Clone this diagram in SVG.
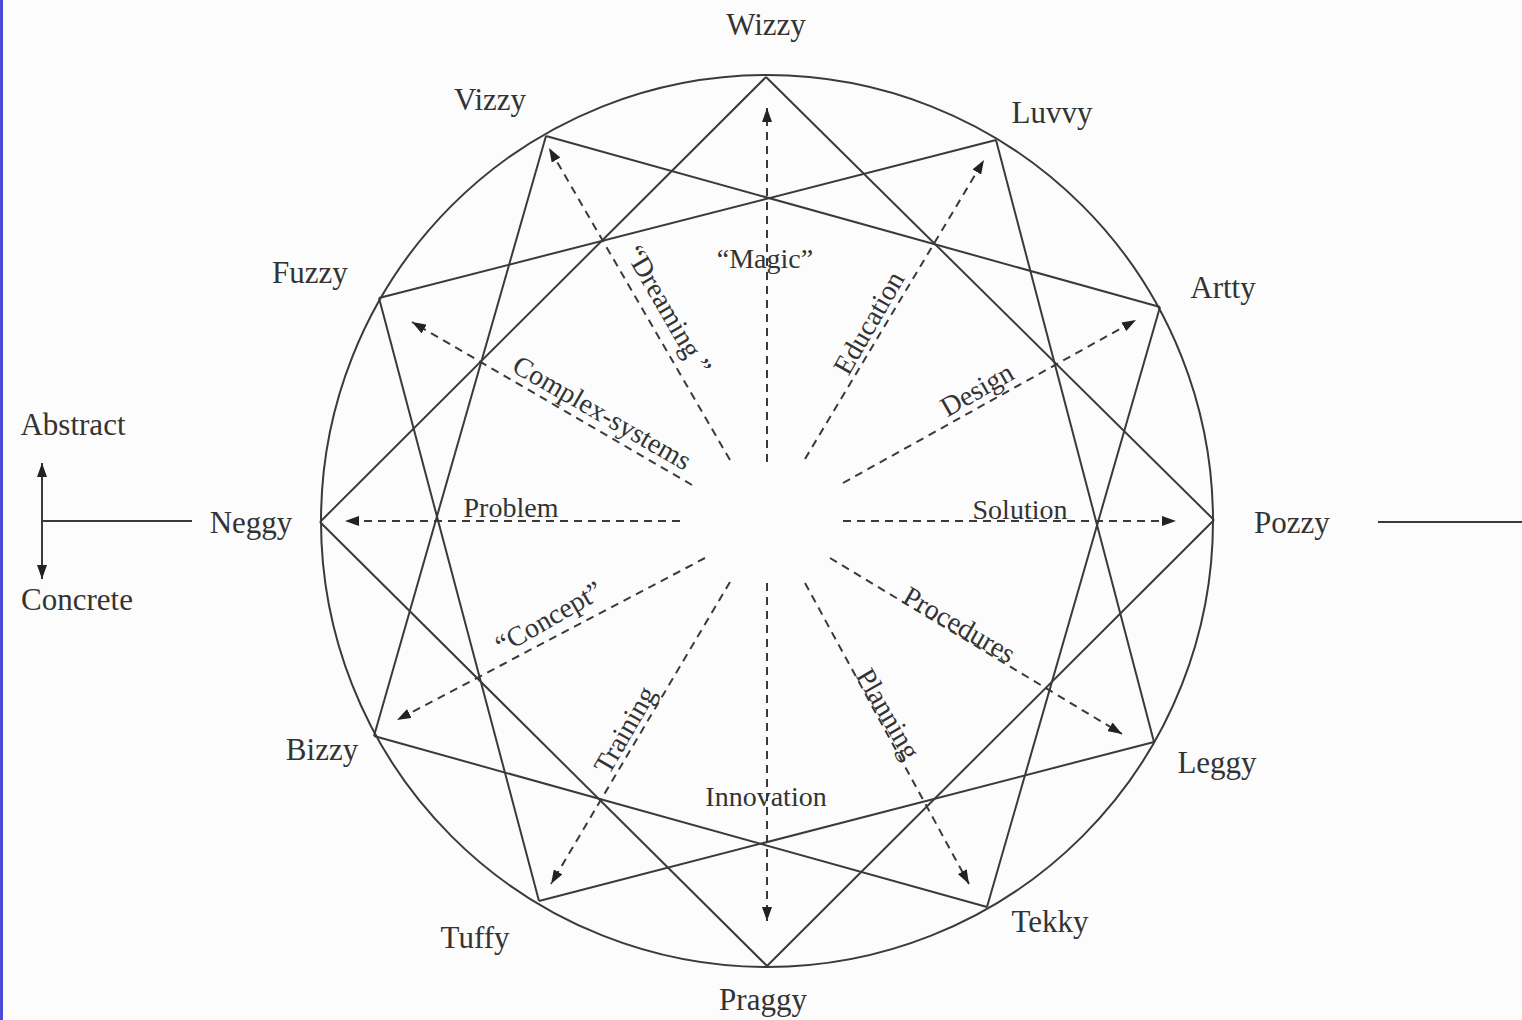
<svg xmlns="http://www.w3.org/2000/svg" width="1522" height="1020" viewBox="0 0 1522 1020">
<style>
.lbl{font-family:"Liberation Serif","Times New Roman",serif;font-size:31px;fill:#333;text-anchor:middle}
.in{font-family:"Liberation Serif","Times New Roman",serif;font-size:28px;fill:#333;text-anchor:middle}
.ln{stroke:#3a3a3a;stroke-width:2;fill:none}
.ax{stroke:#3a3a3a;stroke-width:2;fill:none;marker-end:url(#ah)}
.da{stroke:#3a3a3a;stroke-width:2;fill:none;stroke-dasharray:8 6;marker-end:url(#ah)}
</style>
<defs>
<marker id="ah" viewBox="0 0 14 10" refX="14" refY="5" markerWidth="14" markerHeight="10" markerUnits="userSpaceOnUse" orient="auto">
<path d="M0,0 L14,5 L0,10 z" fill="#222"/>
</marker>
</defs>
<rect x="0" y="0" width="1522" height="1020" fill="#fcfcfc"/>
<rect x="0" y="0" width="3" height="1020" fill="#4a4ad6"/>
<circle cx="767" cy="521" r="446" class="ln"/>
<g id="connectors">
<g id="star">
<line class="ln" x1="766" y1="77" x2="1214" y2="520"/>
<line class="ln" x1="996" y1="140" x2="1154" y2="742"/>
<line class="ln" x1="1160" y1="307" x2="987" y2="907"/>
<line class="ln" x1="1214" y1="520" x2="767" y2="966"/>
<line class="ln" x1="1154" y1="742" x2="539" y2="901"/>
<line class="ln" x1="987" y1="907" x2="374" y2="736"/>
<line class="ln" x1="767" y1="966" x2="320" y2="522"/>
<line class="ln" x1="539" y1="901" x2="379" y2="298"/>
<line class="ln" x1="374" y1="736" x2="546" y2="136"/>
<line class="ln" x1="320" y1="522" x2="766" y2="77"/>
<line class="ln" x1="379" y1="298" x2="996" y2="140"/>
<line class="ln" x1="546" y1="136" x2="1160" y2="307"/>
</g>
<g id="arrows">
<line class="da" x1="767" y1="462" x2="767" y2="108"/>
<line class="da" x1="767" y1="583" x2="767" y2="921"/>
<line class="da" x1="680" y1="521" x2="345" y2="521"/>
<line class="da" x1="843" y1="521" x2="1176" y2="521"/>
<line class="da" x1="730" y1="460" x2="549" y2="148"/>
<line class="da" x1="805" y1="459" x2="984" y2="160"/>
<line class="da" x1="843" y1="483" x2="1136" y2="320"/>
<line class="da" x1="692" y1="485" x2="412" y2="322"/>
<line class="da" x1="705" y1="558" x2="397" y2="720"/>
<line class="da" x1="730" y1="582" x2="551" y2="884"/>
<line class="da" x1="805" y1="583" x2="969" y2="884"/>
<line class="da" x1="830" y1="558" x2="1122" y2="734"/>
</g>
<g id="axis">
<line class="ax" x1="42" y1="521" x2="42" y2="463"/>
<line class="ax" x1="42" y1="521" x2="42" y2="579"/>
<line class="ln" x1="42" y1="521" x2="192" y2="521"/>
<line class="ln" x1="1378" y1="522" x2="1522" y2="522"/>
</g>
</g>
<g id="node-wizzy"><text class="lbl" x="766" y="35">Wizzy</text></g>
<g id="node-vizzy"><text class="lbl" x="490" y="110">Vizzy</text></g>
<g id="node-luvvy"><text class="lbl" x="1052" y="123">Luvvy</text></g>
<g id="node-fuzzy"><text class="lbl" x="310" y="283">Fuzzy</text></g>
<g id="node-artty"><text class="lbl" x="1223" y="298">Artty</text></g>
<g id="node-neggy"><text class="lbl" x="251" y="533">Neggy</text></g>
<g id="node-pozzy"><text class="lbl" x="1292" y="533">Pozzy</text></g>
<g id="node-bizzy"><text class="lbl" x="322" y="760">Bizzy</text></g>
<g id="node-leggy"><text class="lbl" x="1217" y="773">Leggy</text></g>
<g id="node-tuffy"><text class="lbl" x="475" y="948">Tuffy</text></g>
<g id="node-tekky"><text class="lbl" x="1050" y="932">Tekky</text></g>
<g id="node-praggy"><text class="lbl" x="763" y="1010">Praggy</text></g>
<g id="node-abstract"><text class="lbl" x="73" y="435">Abstract</text></g>
<g id="node-concrete"><text class="lbl" x="77" y="610">Concrete</text></g>
<g id="labels">
<text class="in" x="765" y="268">“Magic”</text>
<text class="in" x="511" y="517">Problem</text>
<text class="in" x="1020" y="519">Solution</text>
<text class="in" x="766" y="806">Innovation</text>
<text class="in" transform="translate(668,310) rotate(60)" x="0" y="9">“Dreaming ”</text>
<text class="in" transform="translate(869,323) rotate(-60)" x="0" y="9">Education</text>
<text class="in" transform="translate(977,390) rotate(-30)" x="0" y="9">Design</text>
<text class="in" transform="translate(602,413) rotate(30)" x="0" y="9">Complex-systems</text>
<text class="in" transform="translate(549,618) rotate(-30)" x="0" y="9">“Concept”</text>
<text class="in" transform="translate(625,730) rotate(-60)" x="0" y="9">Training</text>
<text class="in" transform="translate(959,625) rotate(30)" x="0" y="9">Procedures</text>
<text class="in" transform="translate(888,714) rotate(60)" x="0" y="9">Planning</text>
</g>
</svg>
